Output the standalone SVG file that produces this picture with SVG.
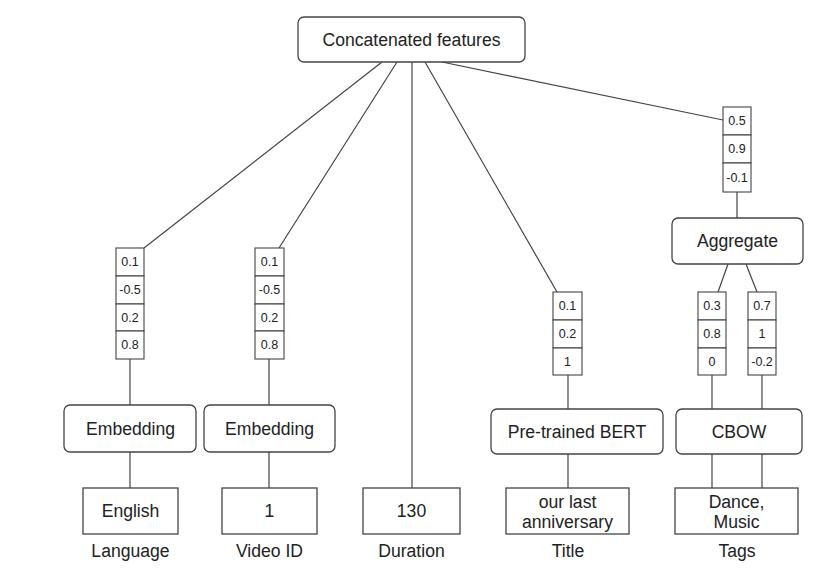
<svg xmlns="http://www.w3.org/2000/svg" width="824" height="578" viewBox="0 0 824 578">
<style>
.box{fill:#fff;stroke:#444;stroke-width:1.3}
.cell{fill:#fff;stroke:#444;stroke-width:1.1}
.ln{stroke:#444;stroke-width:1.2;fill:none}
.t{font-family:"Liberation Sans",Arial,sans-serif;font-size:17.6px;fill:#222;text-anchor:middle;dominant-baseline:central}
.v{font-family:"Liberation Sans",Arial,sans-serif;font-size:12.5px;fill:#222;text-anchor:middle;dominant-baseline:central}
</style>
<rect width="824" height="578" fill="#fff"/>
<g id="connectors">
<line class="ln" x1="382" y1="62" x2="144" y2="248"/>
<line class="ln" x1="397" y1="62" x2="279" y2="248"/>
<line class="ln" x1="412" y1="62" x2="412" y2="488"/>
<line class="ln" x1="425" y1="62" x2="557" y2="292"/>
<line class="ln" x1="442" y1="62" x2="723" y2="120"/>
<line class="ln" x1="130" y1="359" x2="130" y2="405"/>
<line class="ln" x1="130" y1="452" x2="130" y2="488"/>
<line class="ln" x1="269" y1="359" x2="269" y2="405"/>
<line class="ln" x1="269" y1="452" x2="269" y2="488"/>
<line class="ln" x1="568" y1="375" x2="568" y2="409"/>
<line class="ln" x1="568" y1="454" x2="568" y2="488"/>
<line class="ln" x1="737" y1="192" x2="737" y2="218"/>
<line class="ln" x1="728" y1="264" x2="718" y2="292"/>
<line class="ln" x1="746" y1="264" x2="757" y2="292"/>
<line class="ln" x1="712" y1="375" x2="712" y2="409"/>
<line class="ln" x1="762" y1="375" x2="762" y2="409"/>
<line class="ln" x1="712" y1="454" x2="712" y2="488"/>
<line class="ln" x1="762" y1="454" x2="762" y2="488"/>
</g>
<g id="concat">
<rect class="box" x="298" y="17" width="227" height="45" rx="6"/>
<text class="t" x="411.5" y="40">Concatenated features</text>
</g>
<g id="vec-language">
<rect class="cell" x="116" y="248" width="28" height="28"/>
<rect class="cell" x="116" y="276" width="28" height="28"/>
<rect class="cell" x="116" y="304" width="28" height="27"/>
<rect class="cell" x="116" y="331" width="28" height="28"/>
<text class="v" x="130" y="262">0.1</text>
<text class="v" x="130" y="290">-0.5</text>
<text class="v" x="130" y="318">0.2</text>
<text class="v" x="130" y="345">0.8</text>
</g>
<g id="vec-video">
<rect class="cell" x="255" y="248" width="29" height="28"/>
<rect class="cell" x="255" y="276" width="29" height="28"/>
<rect class="cell" x="255" y="304" width="29" height="27"/>
<rect class="cell" x="255" y="331" width="29" height="28"/>
<text class="v" x="269.5" y="262">0.1</text>
<text class="v" x="269.5" y="290">-0.5</text>
<text class="v" x="269.5" y="318">0.2</text>
<text class="v" x="269.5" y="345">0.8</text>
</g>
<g id="vec-title">
<rect class="cell" x="553" y="292" width="29" height="28"/>
<rect class="cell" x="553" y="320" width="29" height="28"/>
<rect class="cell" x="553" y="348" width="29" height="27"/>
<text class="v" x="567.5" y="306">0.1</text>
<text class="v" x="567.5" y="334">0.2</text>
<text class="v" x="567.5" y="361.5">1</text>
</g>
<g id="vec-tags-agg">
<rect class="cell" x="723" y="107" width="28" height="28"/>
<rect class="cell" x="723" y="135" width="28" height="28"/>
<rect class="cell" x="723" y="163" width="28" height="29"/>
<text class="v" x="737" y="121">0.5</text>
<text class="v" x="737" y="149">0.9</text>
<text class="v" x="737" y="177.5">-0.1</text>
</g>
<g id="aggregate">
<rect class="box" x="672" y="218" width="131" height="46" rx="6"/>
<text class="t" x="737.5" y="241">Aggregate</text>
</g>
<g id="vec-dance">
<rect class="cell" x="698" y="292" width="28" height="28"/>
<rect class="cell" x="698" y="320" width="28" height="28"/>
<rect class="cell" x="698" y="348" width="28" height="27"/>
<text class="v" x="712" y="306">0.3</text>
<text class="v" x="712" y="334">0.8</text>
<text class="v" x="712" y="361.5">0</text>
</g>
<g id="vec-music">
<rect class="cell" x="748" y="292" width="28" height="28"/>
<rect class="cell" x="748" y="320" width="28" height="28"/>
<rect class="cell" x="748" y="348" width="28" height="27"/>
<text class="v" x="762" y="306">0.7</text>
<text class="v" x="762" y="334">1</text>
<text class="v" x="762" y="361.5">-0.2</text>
</g>
<g id="embedding-language">
<rect class="box" x="64" y="405" width="132" height="47" rx="6"/>
<text class="t" x="130.5" y="429">Embedding</text>
</g>
<g id="embedding-video">
<rect class="box" x="204" y="405" width="131" height="47" rx="6"/>
<text class="t" x="269.5" y="429">Embedding</text>
</g>
<g id="bert">
<rect class="box" x="491" y="409" width="172" height="45" rx="6"/>
<text class="t" x="577" y="432">Pre-trained BERT</text>
</g>
<g id="cbow">
<rect class="box" x="676" y="409" width="126" height="45" rx="6"/>
<text class="t" x="739" y="432">CBOW</text>
</g>
<g id="input-language">
<rect class="box" x="83" y="488" width="95" height="46"/>
<text class="t" x="130.5" y="511">English</text>
<text class="t" x="130.5" y="551">Language</text>
</g>
<g id="input-video">
<rect class="box" x="222" y="488" width="95" height="46"/>
<text class="t" x="269.5" y="511">1</text>
<text class="t" x="269.5" y="551">Video ID</text>
</g>
<g id="input-duration">
<rect class="box" x="363" y="488" width="97" height="46"/>
<text class="t" x="411.5" y="511">130</text>
<text class="t" x="411.5" y="551">Duration</text>
</g>
<g id="input-title">
<rect class="box" x="506" y="488" width="123" height="46"/>
<text class="t" x="567.5" y="502">our last</text>
<text class="t" x="567.5" y="522">anniversary</text>
<text class="t" x="568" y="551">Title</text>
</g>
<g id="input-tags">
<rect class="box" x="675" y="488" width="123" height="46"/>
<text class="t" x="736.5" y="502">Dance,</text>
<text class="t" x="736.5" y="522">Music</text>
<text class="t" x="737" y="551">Tags</text>
</g>
</svg>
